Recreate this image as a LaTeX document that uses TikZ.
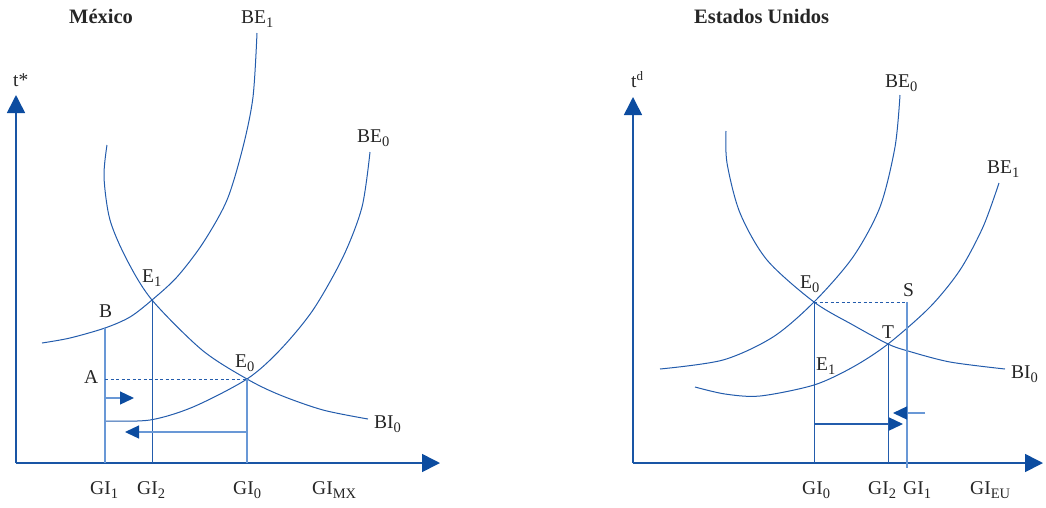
\documentclass[tikz,border=0pt]{standalone}
\usepackage{fontspec}
\setmainfont{Liberation Serif}
\usetikzlibrary{arrows.meta}
\definecolor{cv}{RGB}{35,92,172}
\definecolor{ax}{RGB}{25,85,165}
\definecolor{hd}{RGB}{12,76,160}
\definecolor{lt}{RGB}{105,152,214}
\newcommand{\lsub}[1]{\raisebox{-4.5pt}{\fontsize{14.5}{15}\selectfont #1}}
\newcommand{\lsup}[1]{\raisebox{6.5pt}{\fontsize{13}{14}\selectfont #1}}
\begin{document}
\begin{tikzpicture}[x=1pt,y=-1pt,
  lbl/.style={anchor=base west,inner sep=0pt,text=black!85,font=\fontsize{19.5}{22}\selectfont},
  ttl/.style={anchor=base west,inner sep=0pt,text=black!85,font=\fontsize{20.5}{24}\selectfont\bfseries},
  curve/.style={cv,line width=1pt},
  axisline/.style={ax,line width=1.6pt,-{Triangle[length=18pt,width=18pt,color=hd]}},
  vline/.style={cv,line width=1pt},
  lvline/.style={lt,line width=1.8pt},
  dline/.style={cv,line width=1pt,dash pattern=on 3pt off 2.5pt},
  sarrow/.style={cv,line width=1.3pt,-{Triangle[length=14pt,width=13pt,color=hd]}},
  lsarrow/.style={lt,line width=1.3pt,-{Triangle[length=14pt,width=13pt,color=hd]}}]
\useasboundingbox (0,0) rectangle (1046,507);

% ---------------- Left panel: Mexico ----------------
\coordinate (LO) at (16,463);
\coordinate (LYt) at (16,95);
\coordinate (LXt) at (440,463);
\draw[axisline] (LO) -- (LYt);
\draw[axisline] (LO) -- (LXt);

% curves
\draw[curve] plot[smooth] coordinates {(257,33) (253,97) (243,147) (227,200) (203,243) (177,277) (152,300) (130,317) (105,328) (70,338) (42,343)};
\draw[curve] plot[smooth] coordinates {(107,145) (104,177) (110,220) (127,260) (152,300) (202,350) (247,379) (280,395) (323,410) (368,419)};
\draw[curve] plot[smooth] coordinates {(370,152) (362,207) (343,257) (313,310) (280,350) (247,379) (193,407) (150,420) (105,421)};

\coordinate (LB) at (105,328);
\coordinate (LB0) at (105,463);
\coordinate (LE1) at (152,300);
\coordinate (LE10) at (152,463);
\coordinate (LE0) at (247,379);
\coordinate (LE00) at (247,463);
\coordinate (LA) at (105,379);

\draw[lvline] (LB) -- (LB0);
\draw[vline] (LE1) -- (LE10);
\draw[vline,lt,line width=1.5pt] (LE0) -- (LE00);
\draw[dline] (LA) -- (LE0);

\coordinate (LR1) at (105,398);
\coordinate (LR2) at (134,398);
\draw[sarrow,lt] (LR1) -- (LR2);
\coordinate (LL1) at (247,432);
\coordinate (LL2) at (125,432);
\draw[sarrow,lt] (LL1) -- (LL2);

\node[ttl] (tMX) at (69,23) {México};
\node[lbl] (lBE1) at (241,23) {BE\lsub{1}};
\node[lbl] (lt) at (13,86) {t*};
\node[lbl] (lBE0) at (357,142) {BE\lsub{0}};
\node[lbl] (lE1) at (142,282) {E\lsub{1}};
\node[lbl] (lB) at (99,317) {B};
\node[lbl] (lE0) at (235,367) {E\lsub{0}};
\node[lbl] (lA) at (84,383) {A};
\node[lbl] (lBI0) at (374,428) {BI\lsub{0}};
\node[lbl] (lGI1) at (90,494) {GI\lsub{1}};
\node[lbl] (lGI2) at (137,494) {GI\lsub{2}};
\node[lbl] (lGI0) at (233,494) {GI\lsub{0}};
\node[lbl] (lGIMX) at (312,494) {GI\lsub{MX}};

% ---------------- Right panel: Estados Unidos ----------------
\coordinate (RO) at (633,463);
\coordinate (RYt) at (633,97);
\coordinate (RXt) at (1043,463);
\draw[axisline] (RO) -- (RYt);
\draw[axisline] (RO) -- (RXt);

\draw[curve] plot[smooth] coordinates {(900,95) (895,147) (880,207) (853,257) (814,302) (773,337) (723,360) (660,369)};
\draw[curve] plot[smooth] coordinates {(726,131) (727,163) (740,213) (767,260) (814,302) (853,325) (888,344) (908,351) (950,362) (1005,369)};
\draw[curve] plot[smooth] coordinates {(695,387) (725,394) (760,396) (814,385) (853,367) (888,344) (930,307) (960,270) (983,227) (999,183)};

\coordinate (RE0) at (814,302);
\coordinate (RE00) at (814,463);
\coordinate (RT) at (888,344);
\coordinate (RT0) at (888,463);
\coordinate (RS) at (907,302);
\coordinate (RS0) at (907,468);

\draw[vline] (RE0) -- (RE00);
\draw[vline] (RT) -- (RT0);
\draw[lvline,line width=1.5pt] (RS) -- (RS0);
\draw[dline] (RE0) -- (RS);

\coordinate (RR1) at (814,424);
\coordinate (RR2) at (903,424);
\draw[sarrow] (RR1) -- (RR2);
\coordinate (RL1) at (925,413);
\coordinate (RL2) at (893,413);
\draw[lsarrow] (RL1) -- (RL2);

\node[ttl] (tEU) at (694,23) {Estados Unidos};
\node[lbl] (rt) at (631,87) {t\lsup{d}};
\node[lbl] (rBE0) at (885,87) {BE\lsub{0}};
\node[lbl] (rBE1) at (987,173) {BE\lsub{1}};
\node[lbl] (rE0) at (800,288) {E\lsub{0}};
\node[lbl] (rS) at (903,296) {S};
\node[lbl] (rT) at (882,338) {T};
\node[lbl] (rE1) at (816,370) {E\lsub{1}};
\node[lbl] (rBI0) at (1011,378) {BI\lsub{0}};
\node[lbl] (rGI0) at (802,494) {GI\lsub{0}};
\node[lbl] (rGI2) at (868,494) {GI\lsub{2}};
\node[lbl] (rGI1) at (903,494) {GI\lsub{1}};
\node[lbl] (rGIEU) at (970,494) {GI\lsub{EU}};
\end{tikzpicture}
\end{document}
